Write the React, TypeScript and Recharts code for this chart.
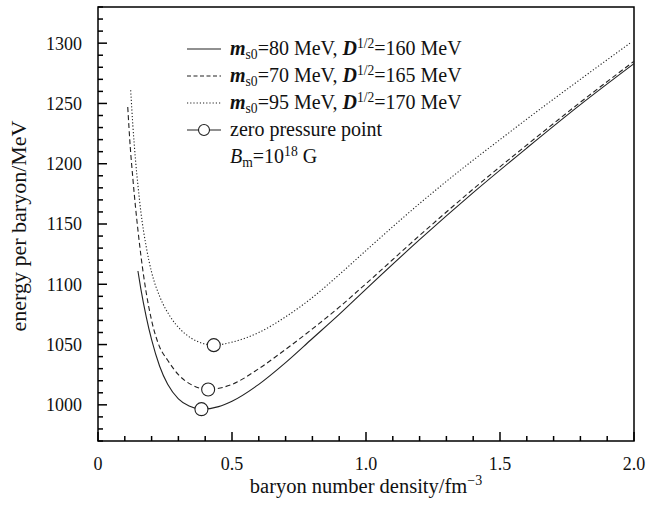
import { ComposedChart, Line, Scatter, XAxis, YAxis, ReferenceArea, Label } from "recharts"

// ms0 = 80 MeV, D^1/2 = 160 MeV
const densityA = [0.149, 0.16, 0.18, 0.2, 0.23, 0.26, 0.3, 0.34, 0.386, 0.45, 0.5, 0.6, 0.7, 0.8, 0.9, 1.0, 1.2, 1.4, 1.6, 1.8, 2.0]
const energyA = [1111, 1096, 1073, 1054, 1032, 1017, 1005, 999, 996.4, 998.5, 1003, 1017, 1035, 1055, 1075, 1096, 1137, 1176, 1213, 1249, 1283]

// ms0 = 70 MeV, D^1/2 = 165 MeV
const densityB = [0.111, 0.12, 0.13, 0.14, 0.15, 0.16, 0.18, 0.2, 0.23, 0.26, 0.3, 0.35, 0.411, 0.5, 0.6, 0.7, 0.8, 0.9, 1.0, 1.2, 1.4, 1.6, 1.8, 2.0]
const energyB = [1247, 1215, 1188, 1164, 1143, 1124, 1093, 1070, 1048, 1037, 1025, 1016.5, 1012.7, 1017, 1030, 1046, 1063, 1081, 1100.5, 1140.5, 1179, 1215.5, 1251, 1285]

// ms0 = 95 MeV, D^1/2 = 170 MeV
const densityC = [0.122, 0.13, 0.14, 0.15, 0.16, 0.18, 0.2, 0.23, 0.27, 0.31, 0.35, 0.39, 0.432, 0.5, 0.6, 0.7, 0.8, 0.9, 1.0, 1.2, 1.4, 1.5, 1.6, 1.8, 1.985]
const energyC = [1261, 1232, 1203, 1180, 1160, 1131, 1110, 1090, 1073, 1062, 1055, 1051, 1049.5, 1052, 1060, 1073, 1089, 1108, 1128, 1167, 1203, 1220, 1237, 1270, 1300]

// zero pressure points
const zeroDensity = [0.386, 0.411, 0.432]
const zeroEnergy = [996.4, 1012.7, 1049.5]

const xTicks = [0, 0.1, 0.2, 0.3, 0.4, 0.5, 0.6, 0.7, 0.8, 0.9, 1.0, 1.1, 1.2, 1.3, 1.4, 1.5, 1.6, 1.7, 1.8, 1.9, 2.0]
const xLabels = ["0", "0.5", "1.0", "1.5", "2.0"]
const yTicks = [970, 980, 990, 1000, 1010, 1020, 1030, 1040, 1050, 1060, 1070, 1080, 1090, 1100, 1110, 1120, 1130, 1140, 1150, 1160, 1170, 1180, 1190, 1200, 1210, 1220, 1230, 1240, 1250, 1260, 1270, 1280, 1290, 1300, 1310, 1320, 1330]
const yLabels = [1000, 1050, 1100, 1150, 1200, 1250, 1300]

const toPoints = (xs: number[], ys: number[]) => xs.map((x, i) => ({ x, y: ys[i] }))

const FONT = "'Liberation Serif', 'Times New Roman', serif"
const INK = "#222"
const TICK_GAP = 16
const XTICK_GAP = 29

function YTick(props: any) {
  const { x, y, payload } = props
  const axisX = x + TICK_GAP
  const major = yLabels.includes(payload.value)
  return (
    <g>
      <line x1={axisX} x2={axisX + (major ? 9 : 5)} y1={y} y2={y} stroke="#000" strokeWidth={1.5} />
      {major && (
        <text x={x} y={y} dy="0.36em" textAnchor="end" fontFamily={FONT} fontSize={18} fill="#111">
          {payload.value}
        </text>
      )}
    </g>
  )
}

function XTick(props: any) {
  const { x, y, payload } = props
  const axisY = y - XTICK_GAP
  const v = payload.value
  const major = Math.abs(v * 2 - Math.round(v * 2)) < 1e-6
  const label = major ? xLabels[Math.round(v * 2)] : null
  return (
    <g>
      <line x1={x} x2={x} y1={axisY} y2={axisY - (major ? 9 : 5)} stroke="#000" strokeWidth={1.5} />
      {label && (
        <text x={x} y={y} textAnchor="middle" fontFamily={FONT} fontSize={18} fill="#111">
          {label}
        </text>
      )}
    </g>
  )
}

const ZeroDot = (props: any) => {
  const { cx, cy } = props
  return <circle cx={cx} cy={cy} r={6.5} fill="#fff" stroke={INK} strokeWidth={1.1} />
}

const sub = { fontSize: "0.68em", verticalAlign: "-0.3em", lineHeight: 0 } as const
const sup = { fontSize: "0.68em", verticalAlign: "0.55em", lineHeight: 0 } as const

function LegendRow({ dash, dot, children }: { dash?: string; dot?: boolean; children: any }) {
  return (
    <div style={{ display: "flex", alignItems: "center", height: 27 }}>
      <svg width={34} height={14} style={{ marginRight: 9 }}>
        {dash !== undefined && (
          <line x1={0} x2={34} y1={7} y2={7} stroke={INK} strokeWidth={1.1} strokeDasharray={dash} />
        )}
        {dot && <circle cx={17} cy={7} r={5.5} fill="#fff" stroke={INK} strokeWidth={1.1} />}
      </svg>
      <span>{children}</span>
    </div>
  )
}

function ModelText({ m, d }: { m: number; d: number }) {
  return (
    <>
      <b><i>m</i></b><span style={sub}>s0</span>={m} MeV, <b><i>D</i></b><span style={sup}>1/2</span>={d} MeV
    </>
  )
}

export default function App() {
  return (
    <div style={{ position: "absolute", left: 0, top: 0, width: 647, height: 514, background: "#fff" }}>
      <ComposedChart width={647} height={514} margin={{ top: 7, right: 13, left: 0, bottom: 0 }}>
        <XAxis
          type="number"
          dataKey="x"
          domain={[0, 2]}
          ticks={xTicks}
          interval={0}
          tick={<XTick />}
          tickLine={false}
          tickSize={0}
          tickMargin={XTICK_GAP}
          axisLine={false}
          height={73}
        >
          <Label
            content={(p: any) => {
              const vb = p.viewBox || { x: 98, y: 441, width: 536, height: 73 }
              const cx = vb.x + vb.width / 2
              return (
                <text x={cx} y={vb.y + 52} textAnchor="middle" fontFamily={FONT} fontSize={20.5} fill="#111">
                  baryon number density/fm
                  <tspan fontSize={14} dy={-8}>−3</tspan>
                </text>
              )
            }}
          />
        </XAxis>
        <YAxis
          type="number"
          domain={[970, 1330]}
          ticks={yTicks}
          interval={0}
          tick={<YTick />}
          tickLine={false}
          tickSize={0}
          tickMargin={TICK_GAP}
          axisLine={false}
          width={98}
        >
          <Label
            content={(p: any) => {
              const vb = p.viewBox || { x: 0, y: 7, width: 98, height: 434 }
              const lx = vb.x + 26
              const ly = vb.y + vb.height / 2 + 2
              return (
                <text x={lx} y={ly} transform={`rotate(-90 ${lx} ${ly})`} textAnchor="middle" fontFamily={FONT} fontSize={22} fill="#111">
                  energy per baryon/MeV
                </text>
              )
            }}
          />
        </YAxis>
        <ReferenceArea x1={0} x2={2} y1={970} y2={1330} fill="none" stroke="#000" strokeWidth={1.5} />
        <Line data={toPoints(densityA, energyA)} dataKey="y" type="monotone" stroke={INK} strokeWidth={1.1} dot={false} isAnimationActive={false} />
        <Line data={toPoints(densityB, energyB)} dataKey="y" type="monotone" stroke={INK} strokeWidth={1.1} strokeDasharray="5 3" dot={false} isAnimationActive={false} />
        <Line data={toPoints(densityC, energyC)} dataKey="y" type="monotone" stroke={INK} strokeWidth={1.1} strokeDasharray="1.2 2" dot={false} isAnimationActive={false} />
        <Scatter data={toPoints(zeroDensity, zeroEnergy)} dataKey="y" shape={<ZeroDot />} isAnimationActive={false} />
      </ComposedChart>
      <div style={{ position: "absolute", left: 187, top: 35, fontFamily: FONT, fontSize: 20, color: "#111", lineHeight: "27px" }}>
        <LegendRow dash=""><ModelText m={80} d={160} /></LegendRow>
        <LegendRow dash="4 2.5"><ModelText m={70} d={165} /></LegendRow>
        <LegendRow dash="1.2 2"><ModelText m={95} d={170} /></LegendRow>
        <LegendRow dash="" dot>zero pressure point</LegendRow>
        <div style={{ height: 27, paddingLeft: 43 }}>
          <i>B</i><span style={sub}>m</span>=10<span style={sup}>18</span> G
        </div>
      </div>
    </div>
  )
}
